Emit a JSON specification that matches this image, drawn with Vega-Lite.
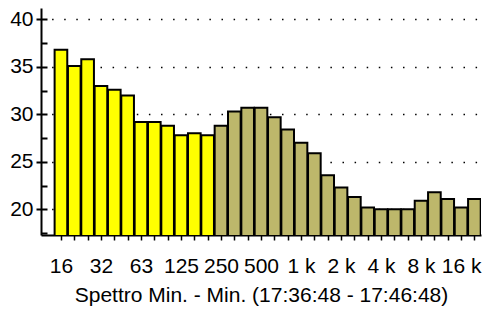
{
  "$schema": "https://vega.github.io/schema/vega-lite/v6.json",
  "width": 440,
  "height": 227,
  "autosize": {"type": "none"},
  "padding": {"left": 41, "top": 8, "right": 8, "bottom": 84},
  "background": "white",
  "config": {"view": {"stroke": null}, "font": "Liberation Sans"},
  "data": {"values": [
    {"i": 0, "f": "16", "v": 36.8, "g": "A"},
    {"i": 1, "f": "20", "v": 35.1, "g": "A"},
    {"i": 2, "f": "25", "v": 35.8, "g": "A"},
    {"i": 3, "f": "31.5", "v": 33.0, "g": "A"},
    {"i": 4, "f": "40", "v": 32.6, "g": "A"},
    {"i": 5, "f": "50", "v": 32.0, "g": "A"},
    {"i": 6, "f": "63", "v": 29.2, "g": "A"},
    {"i": 7, "f": "80", "v": 29.2, "g": "A"},
    {"i": 8, "f": "100", "v": 28.8, "g": "A"},
    {"i": 9, "f": "125", "v": 27.8, "g": "A"},
    {"i": 10, "f": "160", "v": 28.0, "g": "A"},
    {"i": 11, "f": "200", "v": 27.8, "g": "A"},
    {"i": 12, "f": "250", "v": 28.8, "g": "B"},
    {"i": 13, "f": "315", "v": 30.3, "g": "B"},
    {"i": 14, "f": "400", "v": 30.7, "g": "B"},
    {"i": 15, "f": "500", "v": 30.7, "g": "B"},
    {"i": 16, "f": "630", "v": 29.7, "g": "B"},
    {"i": 17, "f": "800", "v": 28.4, "g": "B"},
    {"i": 18, "f": "1k", "v": 27.0, "g": "B"},
    {"i": 19, "f": "1.25k", "v": 25.9, "g": "B"},
    {"i": 20, "f": "1.6k", "v": 23.6, "g": "B"},
    {"i": 21, "f": "2k", "v": 22.3, "g": "B"},
    {"i": 22, "f": "2.5k", "v": 21.3, "g": "B"},
    {"i": 23, "f": "3.15k", "v": 20.2, "g": "B"},
    {"i": 24, "f": "4k", "v": 20.0, "g": "B"},
    {"i": 25, "f": "5k", "v": 20.0, "g": "B"},
    {"i": 26, "f": "6.3k", "v": 20.0, "g": "B"},
    {"i": 27, "f": "8k", "v": 20.9, "g": "B"},
    {"i": 28, "f": "10k", "v": 21.8, "g": "B"},
    {"i": 29, "f": "12.5k", "v": 21.1, "g": "B"},
    {"i": 30, "f": "16k", "v": 20.2, "g": "B"},
    {"i": 31, "f": "20k", "v": 21.1, "g": "B"}
  ]},
  "encoding": {
    "x": {
      "field": "i",
      "type": "quantitative",
      "scale": {"domain": [-1.12, 31.12], "nice": false, "zero": false},
      "axis": {
        "values": [0,1,2,3,4,5,6,7,8,9,10,11,12,13,14,15,16,17,18,19,20,21,22,23,24,25,26,27,28,29,30,31],
        "labelExpr": "datum.value % 3 == 0 ? ['16','32','63','125','250','500','1 k','2 k','4 k','8 k','16 k'][datum.value / 3] : ''",
        "tickSize": 5,
        "tickWidth": 1.5,
        "tickColor": "black",
        "domainColor": "black",
        "domainWidth": 2,
        "grid": false,
        "labelFontSize": 21,
        "labelColor": "black",
        "labelPadding": 15,
        "labelOverlap": false,
        "labelFlush": false,
        "labelBound": false,
        "title": "Spettro Min. -  Min. (17:36:48 - 17:46:48)",
        "titleFontSize": 21,
        "titleFontWeight": "normal",
        "titleColor": "black",
        "titlePadding": 8
      }
    }
  },
  "layer": [
    {
      "mark": {"type": "bar", "opacity": 0, "width": 12.65},
      "encoding": {
        "y": {
          "field": "v",
          "type": "quantitative",
          "scale": {"domain": [17.3, 41.2], "nice": false, "zero": false},
          "axis": {
            "orient": "left",
            "values": [17.5, 20, 22.5, 25, 27.5, 30, 32.5, 35, 37.5, 40],
            "tickSize": 6,
            "offset": -6,
            "tickWidth": 2,
            "tickColor": "black",
            "domain": false,
            "labels": false,
            "grid": false,
            "title": null
          }
        }
      }
    },
    {
      "mark": {"type": "bar", "width": 12.65, "stroke": "black", "strokeWidth": 2, "clip": true},
      "encoding": {
        "y": {
          "field": "v",
          "type": "quantitative",
          "scale": {"domain": [17.3, 41.2], "nice": false, "zero": false},
          "axis": {
            "orient": "left",
            "values": [20, 25, 30, 35, 40],
            "tickSize": 5,
            "tickWidth": 2,
            "tickColor": "black",
            "domain": true,
            "domainColor": "black",
            "domainWidth": 2,
            "labelFontSize": 21,
            "labelColor": "black",
            "labelPadding": 3,
            "grid": true,
            "gridColor": "black",
            "gridWidth": 1.5,
            "gridDash": [1.5, 10.6],
            "gridDashOffset": 1.5,
            "title": null
          }
        },
        "color": {
          "field": "g",
          "type": "nominal",
          "scale": {"domain": ["A", "B"], "range": ["#FFFF00", "#BDB76B"]},
          "legend": null
        }
      }
    }
  ],
  "resolve": {"axis": {"y": "independent"}}
}
